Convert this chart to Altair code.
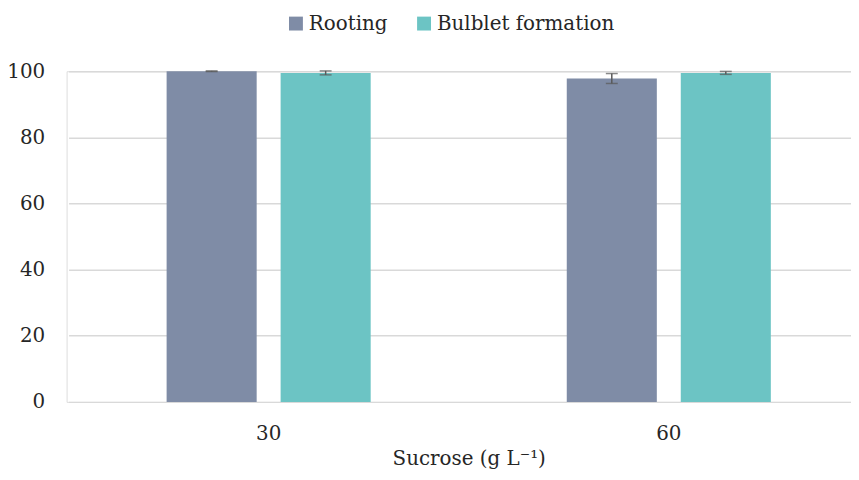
import altair as alt
import pandas as pd

categories = ["30", "60"]
series = ["Rooting", "Bulblet formation"]
rooting = [100.0, 97.8]
rooting_err = [0.1, 1.5]
bulblet = [99.5, 99.5]
bulblet_err = [0.6, 0.45]
colors = ["#7f8ca6", "#6cc4c4"]

rows = []
for i, c in enumerate(categories):
    rows.append({"cat": c, "series": series[0], "value": rooting[i], "err": rooting_err[i]})
    rows.append({"cat": c, "series": series[1], "value": bulblet[i], "err": bulblet_err[i]})
df = pd.DataFrame(rows)
df["lo"] = df["value"] - df["err"]
df["hi"] = df["value"] + df["err"]

FONT = "DejaVu Serif"
FS = 20
TXT = "#262626"

x_enc = alt.X(
    "cat:N",
    sort=categories,
    scale=alt.Scale(range=[2, 808], paddingInner=0, paddingOuter=0),
    axis=alt.Axis(
        title="Sucrose (g L⁻¹)",
        labelAngle=0,
        domain=False,
        ticks=False,
        tickSize=0,
        labelPadding=22,
        titlePadding=5,
        labelFontSize=FS,
        titleFontSize=FS,
        titleFontWeight="normal",
        labelFont=FONT,
        titleFont=FONT,
        labelColor=TXT,
        titleColor=TXT,
    ),
)
xoff_enc = alt.XOffset(
    "series:N",
    sort=series,
    scale=alt.Scale(paddingInner=0.21, paddingOuter=0.86),
)

base = alt.Chart(df)

bars = base.mark_bar().encode(
    x=x_enc,
    xOffset=xoff_enc,
    y=alt.Y(
        "value:Q",
        scale=alt.Scale(domain=[0, 100], nice=False),
        axis=alt.Axis(
            title=None,
            values=[0, 20, 40, 60, 80, 100],
            domain=False,
            ticks=False,
            labelPadding=22,
            labelFontSize=FS,
            labelFont=FONT,
            labelColor=TXT,
            gridColor="#d9d9d9",
            gridWidth=1.5,
        ),
    ),
    color=alt.Color(
        "series:N",
        sort=series,
        scale=alt.Scale(domain=series, range=colors),
        legend=alt.Legend(
            title=None,
            orient="none",
            direction="horizontal",
            legendX=221,
            legendY=-58,
            symbolType="square",
            symbolSize=196,
            symbolStrokeWidth=0,
            labelFontSize=FS,
            labelFont=FONT,
            labelColor=TXT,
            labelOffset=3,
            labelLimit=400,
            columnPadding=26,
        ),
    ),
)

rules = base.mark_rule(color="#595959", strokeWidth=1.5).encode(
    x=alt.X("cat:N", sort=categories),
    xOffset=alt.XOffset("series:N", sort=series),
    y="lo:Q",
    y2="hi:Q",
)
cap_lo = base.mark_tick(color="#595959", thickness=1.5, size=12).encode(
    x=alt.X("cat:N", sort=categories),
    xOffset=alt.XOffset("series:N", sort=series),
    y="lo:Q",
)
cap_hi = base.mark_tick(color="#595959", thickness=1.5, size=12).encode(
    x=alt.X("cat:N", sort=categories),
    xOffset=alt.XOffset("series:N", sort=series),
    y="hi:Q",
)

chart = (
    alt.layer(bars, rules, cap_lo, cap_hi)
    .properties(
        width=790,
        height=333,
        autosize="none",
        padding={"left": 59, "top": 62, "right": 0, "bottom": 78},
    )
    .configure_view(stroke=None)
    .configure(background="white", font=FONT)
)

chart.save("out.html", embed_options={"renderer": "svg", "actions": False})
